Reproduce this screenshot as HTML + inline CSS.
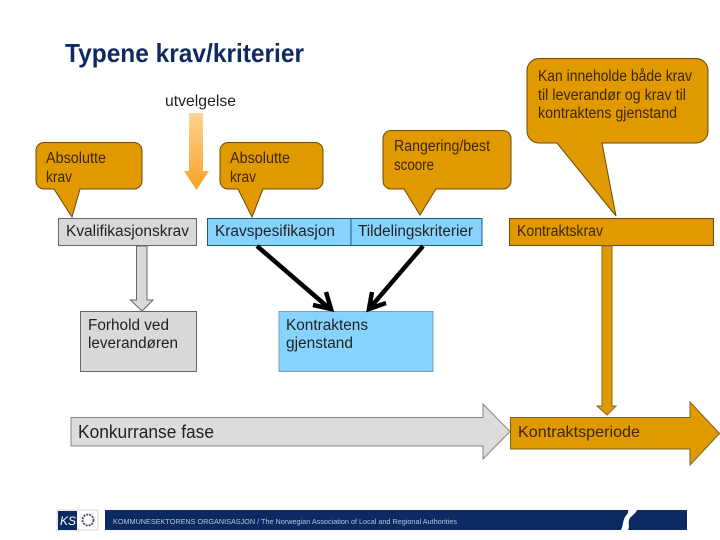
<!DOCTYPE html>
<html><head><meta charset="utf-8"><style>
html,body{margin:0;padding:0;background:#fff}
svg{display:block;filter:blur(0.3px)}
text{font-family:"Liberation Sans",sans-serif}
.c{fill:#3d2500;font-size:15.500px}
.b{fill:#222;font-size:15.500px}
</style></head><body>
<svg width="720" height="540" viewBox="0 0 720 540" xmlns="http://www.w3.org/2000/svg">
<defs>
<linearGradient id="g" x1="0" y1="0" x2="0" y2="1"><stop offset="0" stop-color="#fdd391"/><stop offset="1" stop-color="#f9a126"/></linearGradient>
</defs>
<rect width="720" height="540" fill="#fff"/>
<text x="65" y="62" font-size="26" font-weight="bold" fill="#0f2a63" textLength="239" lengthAdjust="spacingAndGlyphs">Typene krav/kriterier</text>
<text x="165" y="106" font-size="16" fill="#222" textLength="71" lengthAdjust="spacingAndGlyphs">utvelgelse</text>

<path d="M189 115q0-2 2-2h10q2 0 2 2V171h6l-12.500 19L184 171h5Z" fill="url(#g)"/>

<g fill="#e09a00" stroke="#6b4a08" stroke-width="1">
<path d="M44 142.500H134a8 8 0 0 1 8 8V181a8 8 0 0 1-8 8H80L72 217 54 189H44a8 8 0 0 1-8-8V150.500a8 8 0 0 1 8-8Z"/>
<path d="M228 142.500H315a8 8 0 0 1 8 8V181a8 8 0 0 1-8 8H263L252 217 238 189H228a8 8 0 0 1-8-8V150.500a8 8 0 0 1 8-8Z"/>
<path d="M391 130.500H503a8 8 0 0 1 8 8V181a8 8 0 0 1-8 8H436L420 215 404 189H391a8 8 0 0 1-8-8V138.500a8 8 0 0 1 8-8Z"/>
<path d="M539 58.500H696a12 12 0 0 1 12 12V131a12 12 0 0 1-12 12H602L616 216 557 143H539a12 12 0 0 1-12-12V70.500a12 12 0 0 1 12-12Z"/>
</g>
<text class="c" x="46" y="163" textLength="60" lengthAdjust="spacingAndGlyphs">Absolutte</text>
<text class="c" x="46" y="182" textLength="26" lengthAdjust="spacingAndGlyphs">krav</text>
<text class="c" x="230" y="163" textLength="60" lengthAdjust="spacingAndGlyphs">Absolutte</text>
<text class="c" x="230" y="182" textLength="26" lengthAdjust="spacingAndGlyphs">krav</text>
<text class="c" x="394" y="151" textLength="96" lengthAdjust="spacingAndGlyphs">Rangering/best</text>
<text class="c" x="394" y="170" textLength="40" lengthAdjust="spacingAndGlyphs">scoore</text>
<text class="c" x="538" y="81" textLength="154" lengthAdjust="spacingAndGlyphs">Kan inneholde både krav</text>
<text class="c" x="538" y="100" textLength="148" lengthAdjust="spacingAndGlyphs">til leverandør og krav til</text>
<text class="c" x="538" y="118" textLength="139" lengthAdjust="spacingAndGlyphs">kontraktens gjenstand</text>

<rect x="58.500" y="218.500" width="138" height="27" fill="#d9d9d9" stroke="#666"/>
<rect x="207.500" y="218.500" width="143.500" height="27" fill="#87d3ff" stroke="#1d5a78"/>
<rect x="351" y="218.500" width="131" height="27" fill="#87d3ff" stroke="#1d5a78"/>
<rect x="509.500" y="218.500" width="204" height="27" fill="#e09a00" stroke="#6b4a08"/>
<text class="b" x="66" y="236" textLength="123" lengthAdjust="spacingAndGlyphs">Kvalifikasjonskrav</text>
<text class="b" x="215" y="236" fill="#12303f" textLength="120" lengthAdjust="spacingAndGlyphs">Kravspesifikasjon</text>
<text class="b" x="358" y="236" textLength="115" lengthAdjust="spacingAndGlyphs">Tildelingskriterier</text>
<text class="c" x="517" y="236" textLength="86" lengthAdjust="spacingAndGlyphs">Kontraktskrav</text>

<path d="M136.500 246V300H130.500L142 311 153 300H147V246Z" fill="#d9d9d9" stroke="#666"/>
<rect x="80.500" y="311.500" width="116" height="60" fill="#d9d9d9" stroke="#666"/>
<rect x="279" y="311.500" width="154" height="60" fill="#87d3ff" stroke="#7a9fb5"/>
<text class="b" x="88" y="330" textLength="81" lengthAdjust="spacingAndGlyphs">Forhold ved</text>
<text class="b" x="88" y="348" textLength="90" lengthAdjust="spacingAndGlyphs">leverandøren</text>
<text class="b" x="286" y="330" fill="#12303f" textLength="82" lengthAdjust="spacingAndGlyphs">Kontraktens</text>
<text class="b" x="286" y="348" fill="#12303f" textLength="67" lengthAdjust="spacingAndGlyphs">gjenstand</text>

<g fill="none" stroke="#000" stroke-width="4.500">
<path d="M257 246L330 309"/>
<path d="M326 292L331 309 313 305"/>
<path d="M423 246L369 309"/>
<path d="M372 292L369 309 386 303"/>
</g>

<path d="M602 246V406H597L607 415 616 406H612V246Z" fill="#e09a00" stroke="#8a6a20" stroke-width="1"/>

<path d="M71 417.500H483V404L510 431.500 483 459V446H71Z" fill="#dcdcdc" stroke="#888"/>
<text x="78" y="438" font-size="18" fill="#222" textLength="136" lengthAdjust="spacingAndGlyphs">Konkurranse fase</text>
<path d="M510.500 417.500H690V402L719.500 433.500 690 465V449H510.500Z" fill="#e09a00" stroke="#7d6020"/>
<text x="518" y="437" font-size="16" fill="#3d2500" textLength="122" lengthAdjust="spacingAndGlyphs">Kontraktsperiode</text>

<rect x="57" y="510" width="41" height="20" fill="#fff" stroke="#aaa" stroke-width="0.500"/>
<rect x="58" y="511" width="19" height="19" fill="#0b2a62"/>
<text x="60" y="525" font-size="12" font-style="italic" fill="#fff">KS</text>
<circle cx="88" cy="520" r="5.500" fill="none" stroke="#556" stroke-width="2" stroke-dasharray="2 1"/>
<rect x="105" y="510" width="582" height="20" fill="#0b2a62"/>
<text x="113" y="524" font-size="7" fill="#b9c4d8" textLength="344" lengthAdjust="spacingAndGlyphs">KOMMUNESEKTORENS ORGANISASJON / The Norwegian Association of Local and Regional Authorities</text>
<path d="M628 510H637C635 515 630 516 629 520C628 524 630 527 628 530H621C623 526 623 520 625 517C627 514 629 513 628 510Z" fill="#fff"/>
</svg>
</body></html>
